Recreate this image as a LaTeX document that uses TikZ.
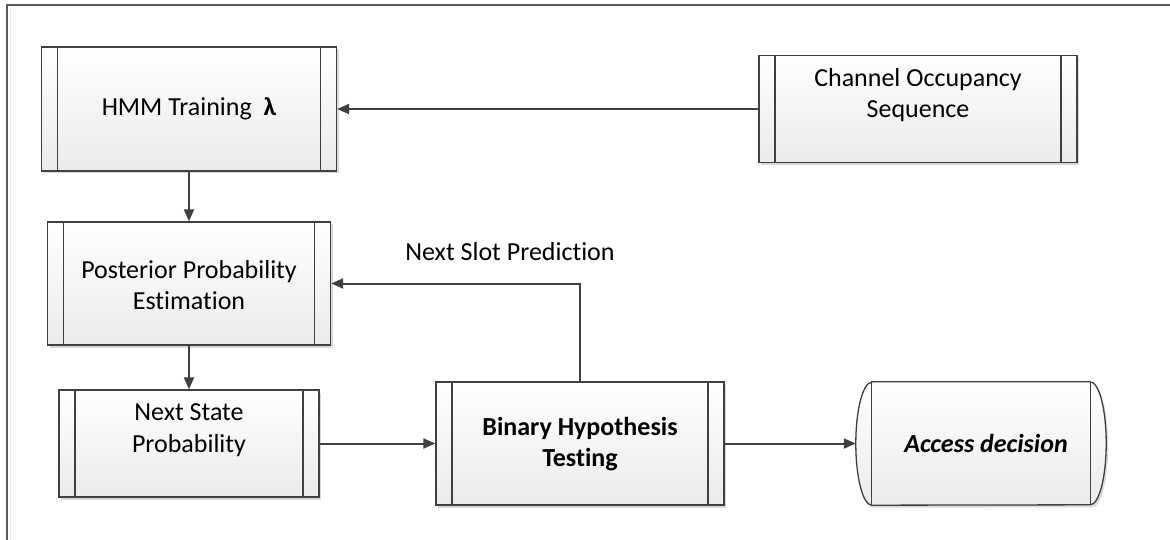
\documentclass[tikz,border=0pt]{standalone}
\usepackage{fontspec}
\setmainfont[Ligatures=NoCommon]{Carlito}
\usetikzlibrary{arrows.meta,shadows}
\definecolor{linec}{HTML}{404040}
\definecolor{fillc}{HTML}{EBEBEB}
\definecolor{framec}{HTML}{5A5A5A}

\begin{document}
\begin{tikzpicture}[x=1pt, y=-1pt,
    box/.style={draw=linec, line width=1.3pt, inner sep=0pt,
      top color=white, bottom color=fillc,
      drop shadow={shadow xshift=2pt, shadow yshift=-2.5pt, fill=black!25, opacity=.6},
      path picture={
        \draw[linec, line width=1.3pt] ([xshift=16pt]path picture bounding box.north west) -- ([xshift=16pt]path picture bounding box.south west);
        \draw[linec, line width=1.3pt] ([xshift=-16pt]path picture bounding box.north east) -- ([xshift=-16pt]path picture bounding box.south east);
      }},
    arr/.style={draw=linec, line width=2pt, -{Triangle[length=12pt, width=10pt]}},
    txt/.style={font=\fontsize{26}{31.7}\selectfont, align=center, text=black}]
    \useasboundingbox (0,0) rectangle (1170,540);

    % 枠
    \draw[black!8, line width=1pt] (10.5,540) -- (10.5,8);
    \draw[framec, line width=1.5pt] (7,540) -- (7,5) -- (1170,5);

    % 箱を置く
    \node[box, minimum width=295pt, minimum height=124pt] (hmm) at (189, 109) {};
    \node[box, minimum width=318pt, minimum height=107pt] (chan) at (918, 109) {};
    \node[box, minimum width=283pt, minimum height=123pt] (post) at (189, 283.5) {};
    \node[box, minimum width=260pt, minimum height=107pt] (nxt) at (189, 443.5) {};
    \node[box, minimum width=288pt, minimum height=123pt] (bin) at (580, 443.5) {};
    \node[minimum width=250pt, minimum height=123pt, inner sep=0pt] (acc) at (981, 443.5) {};
    \draw[linec, line width=1.3pt, top color=white, bottom color=fillc,
      drop shadow={shadow xshift=2pt, shadow yshift=-2.5pt, fill=black!25, opacity=.6}]
      ([xshift=16pt]acc.north west) -- ([xshift=-16pt]acc.north east)
      arc[start angle=90, end angle=-90, x radius=16pt, y radius=61.5pt]
      -- ([xshift=16pt]acc.south west)
      arc[start angle=270, end angle=90, x radius=16pt, y radius=61.5pt] -- cycle;
    \draw[linec, line width=1.3pt] ([xshift=16pt]acc.north west) -- ([xshift=16pt]acc.south west);
    \draw[linec, line width=1.3pt] ([xshift=-16pt]acc.north east) -- ([xshift=-16pt]acc.south east);

    % 線を引く
    \draw[arr] (chan.west) -- (hmm.east);
    \draw[arr] (hmm.south) -- (post.north);
    \draw[arr] (post.south) -- (nxt.north);
    \draw[arr] (nxt.east) -- (bin.west);
    \draw[arr] (bin.north) |- (post.east);
    \draw[arr] (bin.east) -- (acc.west);

    % 文字を入れる
    \node[txt] (thmm) at (189, 109) {HMM Training\ \ \textbf{λ}};
    \node[txt] (tchan) at (918, 95) {Channel Occupancy\\Sequence};
    \node[txt] (tpost) at (189, 285) {Posterior Probability\\Estimation};
    \node[txt] (tnxt) at (189, 430) {Next State\\Probability};
    \node[txt] (tbin) at (580, 444) {\textbf{Binary Hypothesis}\\\textbf{Testing}};
    \node[txt] (tacc) at (986, 443.5) {\textbf{\textit{Access decision}}};
    \node[txt] (tslot) at (510, 252) {Next Slot Prediction};
  \end{tikzpicture}
\end{document}
